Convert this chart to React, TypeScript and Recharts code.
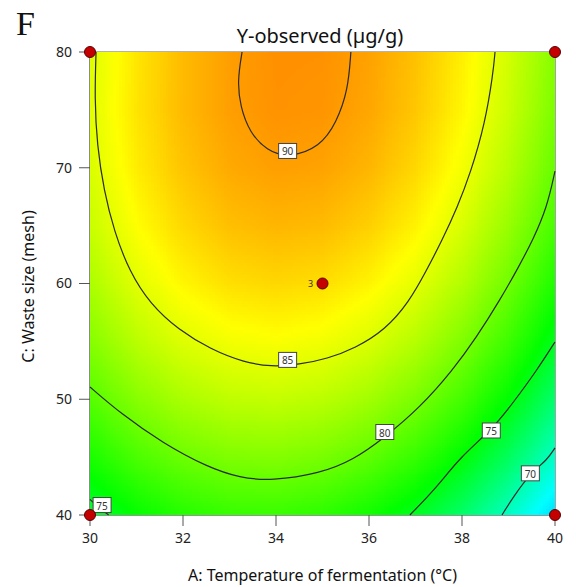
import React from 'react';
import { ScatterChart, Scatter, XAxis, YAxis, ReferenceArea, Label } from 'recharts';

// A: temperature (°C), C: waste size (mesh)
const tempA = [30, 31, 32, 33, 34, 35, 36, 37, 38, 39, 40];
const sizeC = [40, 45, 50, 55, 60, 65, 70, 75, 80];

// Y-observed (µg/g) on the A x C grid, one row per waste size (40 → 80)
const yieldGrid = [
  [74.26, 76.12, 77.40, 78.09, 78.19, 77.70, 76.63, 74.97, 72.73, 69.90, 66.47],
  [76.99, 78.91, 80.24, 80.99, 81.14, 80.72, 79.70, 78.10, 75.91, 73.13, 69.77],
  [79.32, 81.29, 82.68, 83.48, 83.69, 83.32, 82.36, 80.81, 78.67, 75.95, 72.64],
  [81.24, 83.27, 84.71, 85.56, 85.83, 85.51, 84.60, 83.11, 81.03, 78.36, 75.10],
  [82.74, 84.83, 86.33, 87.24, 87.56, 87.30, 86.44, 85.01, 82.98, 80.37, 77.17],
  [83.84, 85.98, 87.53, 88.50, 88.87, 88.67, 87.87, 86.49, 84.52, 81.96, 78.82],
  [84.52, 86.71, 88.32, 89.34, 89.77, 89.62, 88.88, 87.55, 85.63, 83.13, 80.04],
  [84.80, 87.04, 88.71, 89.78, 90.27, 90.17, 89.48, 88.21, 86.35, 83.90, 80.86],
  [84.65, 86.96, 88.67, 89.80, 90.35, 90.30, 89.67, 88.45, 86.65, 84.26, 81.28],
];

// contour paths as [A, C]
const contour90 = [
  [33.27, 80], [33.17, 77.5], [33.23, 75.3], [33.44, 73], [33.8, 71.5], [34.26, 70.84],
  [34.95, 71.8], [35.3, 73.9], [35.55, 76.7], [35.61, 80],
];
const contour85 = [
  [30.13, 80], [30.1, 76], [30.15, 72], [30.3, 68], [30.52, 64.5], [30.85, 61], [31.3, 58.2],
  [31.9, 56], [32.6, 54.3], [33.3, 53.2], [33.9, 52.8], [34.5, 53.0], [35.1, 53.5], [35.7, 54.4],
  [36.35, 56.0], [36.86, 58.4], [37.22, 61], [37.58, 63.8], [37.9, 66.6], [38.18, 69.5],
  [38.5, 73.9], [38.67, 78.2], [38.71, 80],
];
const contour80 = [
  [30, 51.06], [30.65, 48.8], [31.57, 46.2], [32.52, 44.15], [33.23, 43.2], [33.9, 42.95],
  [34.95, 43.6], [35.66, 44.75], [36.34, 46.7], [37.1, 49.3], [37.8, 52.5], [38.32, 55.4],
  [38.82, 58.6], [39.2, 61.3], [39.53, 63.8], [39.83, 66.6], [40, 69.7],
];
const contour75 = [
  [36.88, 40], [37.46, 42.4], [37.96, 45.0], [38.65, 47.4], [39.1, 49.7], [39.61, 52.5], [40, 54.95],
];
const contour75Corner = [[30, 41.35], [30.2, 40.6], [30.4, 40]];
const contour70 = [[38.86, 40], [39.1, 41.55], [39.47, 43.6], [39.83, 44.75], [40, 45.8]];

const contourLabels = [
  { A: 34.25, C: 71.45, level: 90 },
  { A: 34.25, C: 53.4, level: 85 },
  { A: 36.34, C: 47.17, level: 80 },
  { A: 38.63, C: 47.3, level: 75 },
  { A: 39.47, C: 43.6, level: 70 },
  { A: 30.26, C: 40.86, level: 75 },
];

const designPoints = [
  { A: 30, C: 40, n: 1 },
  { A: 30, C: 80, n: 1 },
  { A: 40, C: 80, n: 1 },
  { A: 40, C: 40, n: 1 },
  { A: 35, C: 60, n: 3 },
];

const aTicks = [30, 32, 34, 36, 38, 40];
const cTicks = [40, 50, 60, 70, 80];

// blue → cyan → green → yellow → red
const colorStops: [number, number[]][] = [
  [56, [0, 0, 255]],
  [68, [0, 255, 255]],
  [76, [0, 255, 0]],
  [86, [255, 255, 0]],
  [96, [255, 0, 0]],
];

const FONT = '"Noto Sans", "Open Sans", sans-serif';
const W = 576;
const H = 587;
const MARGIN = { top: 52, right: 21, bottom: 42, left: 30 };
const Y_AXIS_W = 60;
const X_AXIS_H = 30;
const PLOT_W = W - MARGIN.left - MARGIN.right - Y_AXIS_W;
const PLOT_H = H - MARGIN.top - MARGIN.bottom - X_AXIS_H;
const CELL_W = PLOT_W / (tempA.length - 1);
const CELL_H = PLOT_H / (sizeC.length - 1);
const SUB_X = 16;
const SUB_Y = 20;

function colorFor(v: number) {
  if (v <= colorStops[0][0]) return `rgb(${colorStops[0][1].join(',')})`;
  for (let i = 1; i < colorStops.length; i++) {
    const [v1, c1] = colorStops[i];
    if (v <= v1) {
      const [v0, c0] = colorStops[i - 1];
      const t = (v - v0) / (v1 - v0);
      const c = c0.map((x, k) => Math.round(x + (c1[k] - x) * t));
      return `rgb(${c.join(',')})`;
    }
  }
  return `rgb(${colorStops[colorStops.length - 1][1].join(',')})`;
}

const toPts = (arr: number[][]) => arr.map(([A, C]) => ({ A, C }));

// one entry per grid cell, with its four corner values
const cells: any[] = [];
for (let j = 0; j < sizeC.length - 1; j++) {
  for (let i = 0; i < tempA.length - 1; i++) {
    cells.push({
      A: (tempA[i] + tempA[i + 1]) / 2,
      C: (sizeC[j] + sizeC[j + 1]) / 2,
      v00: yieldGrid[j][i],
      v10: yieldGrid[j][i + 1],
      v01: yieldGrid[j + 1][i],
      v11: yieldGrid[j + 1][i + 1],
    });
  }
}

function HeatCell(props: any) {
  const { cx, cy, payload } = props;
  const left = cx - CELL_W / 2;
  const top = cy - CELL_H / 2;
  const rects: React.ReactNode[] = [];
  for (let k = 0; k < SUB_Y; k++) {
    const y0 = Math.round(top + (k * CELL_H) / SUB_Y);
    const y1 = Math.round(top + ((k + 1) * CELL_H) / SUB_Y);
    const fc = 1 - (k + 0.5) / SUB_Y;
    for (let i = 0; i < SUB_X; i++) {
      const x0 = Math.round(left + (i * CELL_W) / SUB_X);
      const x1 = Math.round(left + ((i + 1) * CELL_W) / SUB_X);
      const fa = (i + 0.5) / SUB_X;
      const v =
        payload.v00 * (1 - fa) * (1 - fc) +
        payload.v10 * fa * (1 - fc) +
        payload.v01 * (1 - fa) * fc +
        payload.v11 * fa * fc;
      rects.push(
        <rect key={k * SUB_X + i} x={x0} y={y0} width={x1 - x0} height={y1 - y0} fill={colorFor(v)} />
      );
    }
  }
  return <g shapeRendering="crispEdges">{rects}</g>;
}

const NoMark = () => <g />;

function LevelTag(props: any) {
  const { cx, cy, payload } = props;
  return (
    <g>
      <rect x={cx - 9} y={cy - 7.5} width={18} height={15} fill="#fff" stroke="#444" strokeWidth={1} />
      <text x={cx} y={cy + 0.5} textAnchor="middle" dominantBaseline="central" fontSize={10} fontFamily={FONT} fill="#333">
        {payload.level}
      </text>
    </g>
  );
}

function DesignDot(props: any) {
  const { cx, cy, payload } = props;
  return (
    <g>
      <circle cx={cx} cy={cy} r={5.5} fill="#c40000" stroke="#5a0000" strokeWidth={1} />
      {payload.n > 1 && (
        <text x={cx - 12} y={cy} textAnchor="middle" dominantBaseline="central" fontSize={9} fontFamily={FONT} fill="#333">
          {payload.n}
        </text>
      )}
    </g>
  );
}

const lineStyle = { stroke: '#2b2b2b', strokeWidth: 1.2 };
const tickStyle = { fill: '#222', fontSize: 14, fontFamily: FONT };

export default function App() {
  const contours = [contour90, contour85, contour80, contour75, contour75Corner, contour70];
  return (
    <div style={{ position: 'absolute', left: 0, top: 0, width: W, height: H, background: '#fff' }}>
      <div style={{ position: 'absolute', left: 16, top: 4, fontFamily: '"Liberation Serif", serif', fontSize: 34, lineHeight: '40px', color: '#111' }}>
        F
      </div>
      <div style={{ position: 'absolute', left: 170, width: 300, top: 22, textAlign: 'center', fontFamily: FONT, fontSize: 20, lineHeight: '28px', color: '#111' }}>
        Y-observed (µg/g)
      </div>
      <ScatterChart width={W} height={H} margin={MARGIN}>
        <XAxis
          type="number"
          dataKey="A"
          domain={[30, 40]}
          ticks={aTicks}
          height={X_AXIS_H}
          tickSize={11}
          tickMargin={7}
          tick={tickStyle}
          axisLine={{ stroke: '#777' }}
          tickLine={{ stroke: '#555' }}
        >
          <Label
            content={({ viewBox }: any) => (
              <text x={viewBox.x + viewBox.width / 2} y={viewBox.y + 60} textAnchor="middle" dominantBaseline="central" fontSize={16} fontFamily={FONT} fill="#111">
                A: Temperature of fermentation (°C)
              </text>
            )}
          />
        </XAxis>
        <YAxis
          type="number"
          dataKey="C"
          domain={[40, 80]}
          ticks={cTicks}
          width={Y_AXIS_W}
          tickSize={11}
          tickMargin={7}
          tick={tickStyle}
          axisLine={{ stroke: '#777' }}
          tickLine={{ stroke: '#555' }}
        >
          <Label
            content={({ viewBox }: any) => {
              const x = viewBox.x - 2;
              const y = viewBox.y + viewBox.height / 2 + 3;
              return (
                <text x={x} y={y} transform={`rotate(-90, ${x}, ${y})`} textAnchor="middle" dominantBaseline="central" fontSize={16} fontFamily={FONT} fill="#111">
                  C: Waste size (mesh)
                </text>
              );
            }}
          />
        </YAxis>
        <Scatter data={cells} shape={HeatCell} isAnimationActive={false} />
        {contours.map((c, i) => (
          <Scatter key={i} data={toPts(c)} line={lineStyle} lineJointType="basis" shape={NoMark} isAnimationActive={false} />
        ))}
        <ReferenceArea x1={30} x2={40} y1={40} y2={80} fill="none" stroke="#666" strokeWidth={1.2} fillOpacity={0} />
        <Scatter data={contourLabels} shape={LevelTag} isAnimationActive={false} />
        <Scatter data={designPoints} shape={DesignDot} isAnimationActive={false} />
      </ScatterChart>
    </div>
  );
}
